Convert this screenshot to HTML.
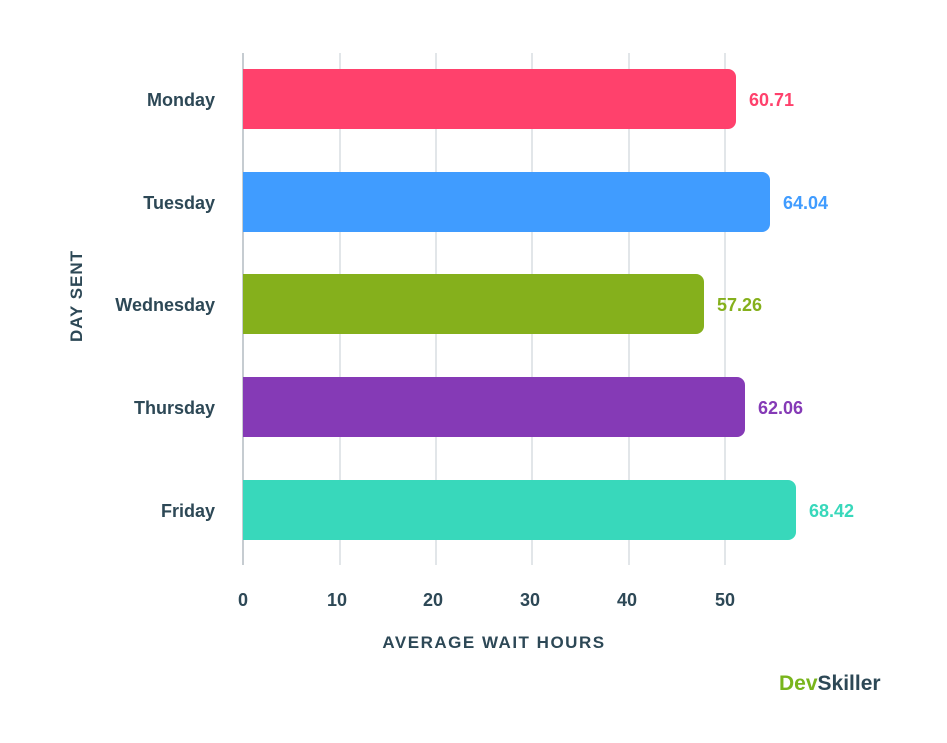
<!DOCTYPE html>
<html><head><meta charset="utf-8"><style>
body{margin:0;background:#fff;}
svg{display:block;font-family:"Liberation Sans",sans-serif;font-weight:bold;}
</style></head><body>
<svg width="947" height="743" viewBox="0 0 947 743">
<rect width="947" height="743" fill="#fff"/>
<g stroke="#d9dee2" stroke-width="1.5">
<line x1="340" y1="53" x2="340" y2="565"/>
<line x1="436" y1="53" x2="436" y2="565"/>
<line x1="532" y1="53" x2="532" y2="565"/>
<line x1="629" y1="53" x2="629" y2="565"/>
<line x1="725" y1="53" x2="725" y2="565"/>
</g>
<line x1="243" y1="53" x2="243" y2="565" stroke="#b4bcc2" stroke-width="1.5"/>
<path d="M243 69H728a8 8 0 0 1 8 8V121a8 8 0 0 1-8 8H243Z" fill="#ff416c"/>
<path d="M243 172H762a8 8 0 0 1 8 8V224a8 8 0 0 1-8 8H243Z" fill="#409cff"/>
<path d="M243 274H696a8 8 0 0 1 8 8V326a8 8 0 0 1-8 8H243Z" fill="#85b01c"/>
<path d="M243 377H737a8 8 0 0 1 8 8V429a8 8 0 0 1-8 8H243Z" fill="#853ab6"/>
<path d="M243 480H788a8 8 0 0 1 8 8V532a8 8 0 0 1-8 8H243Z" fill="#38d8bb"/>
<g font-size="18" fill="#2d4856" text-anchor="end">
<text x="215" y="106">Monday</text>
<text x="215" y="209">Tuesday</text>
<text x="215" y="311">Wednesday</text>
<text x="215" y="414">Thursday</text>
<text x="215" y="517">Friday</text>
</g>
<g font-size="18">
<text x="749" y="106" fill="#ff416c">60.71</text>
<text x="783" y="209" fill="#409cff">64.04</text>
<text x="717" y="311" fill="#85b01c">57.26</text>
<text x="758" y="414" fill="#853ab6">62.06</text>
<text x="809" y="517" fill="#38d8bb">68.42</text>
</g>
<g font-size="18" fill="#2d4856" text-anchor="middle">
<text x="243" y="606">0</text>
<text x="337" y="606">10</text>
<text x="433" y="606">20</text>
<text x="530" y="606">30</text>
<text x="627" y="606">40</text>
<text x="725" y="606">50</text>
</g>
<text x="494" y="648" font-size="17" fill="#2d4856" text-anchor="middle" letter-spacing="1.5">AVERAGE WAIT HOURS</text>
<text transform="translate(82,296) rotate(-90)" font-size="17" fill="#2d4856" text-anchor="middle" letter-spacing="1">DAY SENT</text>
<text x="779" y="690" font-size="21"><tspan fill="#79b51c">Dev</tspan><tspan fill="#2d4856">Skiller</tspan></text>
</svg>
</body></html>
